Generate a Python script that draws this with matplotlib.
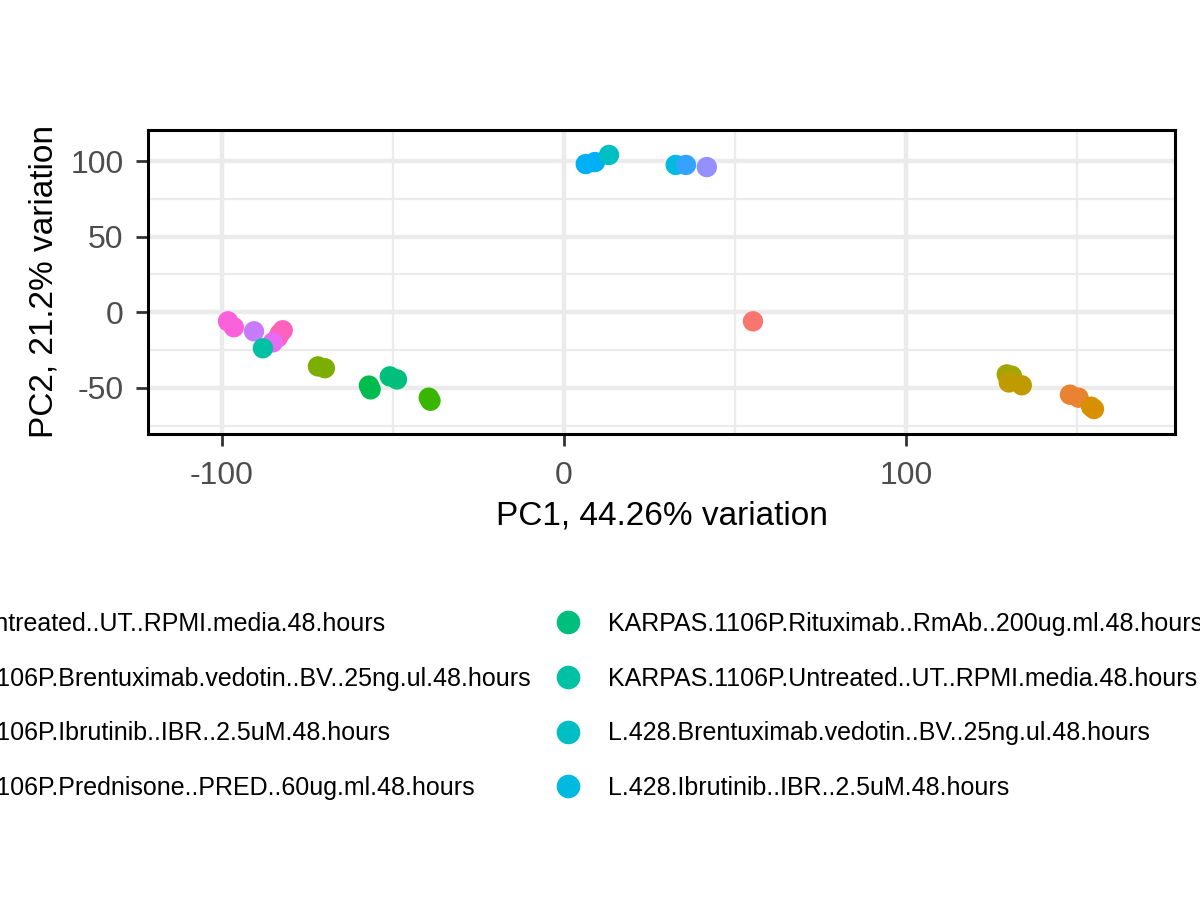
import matplotlib
matplotlib.use("Agg")
import matplotlib.pyplot as plt
from matplotlib.lines import Line2D
from matplotlib.ticker import MultipleLocator

plt.rcParams['font.family'] = ['Liberation Sans', 'DejaVu Sans']
plt.rcParams['axes.unicode_minus'] = False

# groups (legend order) and their ggplot hue colours
lines = ["HDLM.2", "KARPAS.1106P", "L.428", "L.540"]
treatments = ["Brentuximab.vedotin..BV..25ng.ul.48.hours",
              "Ibrutinib..IBR..2.5uM.48.hours",
              "Prednisone..PRED..60ug.ml.48.hours",
              "Rituximab..RmAb..200ug.ml.48.hours",
              "Untreated..UT..RPMI.media.48.hours"]
groups = [c + "." + t for c in lines for t in treatments]
colors = ["#F8766D", "#EA8331", "#D89000", "#C09B00", "#A3A500",
          "#7CAE00", "#39B600", "#00BB4E", "#00BF7D", "#00C1A3",
          "#00BFC4", "#00BAE0", "#00B0F6", "#35A2FF", "#9590FF",
          "#C77CFF", "#E76BF3", "#FA62DB", "#FF62BC", "#FF6C91"]

# samples, in drawing order: group index, PC1, PC2
sample_group = [0, 1, 1, 2, 2, 4, 4, 3, 3,
                17, 17, 15, 19, 18, 18, 16,
                5, 5, 6, 6, 7, 7, 8, 8, 9,
                12, 12, 10, 11, 13, 14]
pc1 = [55.3, 148.0, 150.5, 154.2, 155.0, 129.5, 131.0, 130.1, 133.9,
       -98.2, -96.5, -90.6, -83.0, -82.2, -83.6, -85.1,
       -71.9, -69.9, -39.5, -39.0, -57.0, -56.5, -50.9, -48.8, -88.0,
       6.4, 9.1, 13.2, 32.7, 35.7, 41.8]
pc2 = [-6.0, -54.5, -56.5, -62.5, -64.0, -41.1, -42.0, -46.4, -48.3,
       -6.0, -9.9, -12.6, -14.0, -11.9, -16.6, -19.9,
       -35.8, -37.0, -56.5, -58.5, -48.5, -51.0, -42.4, -44.4, -23.8,
       98.0, 99.3, 104.0, 97.4, 97.4, 96.0]

xlabel = "PC1, 44.26% variation"
ylabel = "PC2, 21.2% variation"

fig = plt.figure(figsize=(12, 9), dpi=100)
ax = fig.add_axes([148 / 1200, 1 - 434 / 900, (1175 - 148) / 1200, (434 - 130) / 900])

ax.scatter(pc1, pc2, c=[colors[g] for g in sample_group], s=215,
           linewidths=0, zorder=3)

ax.set_xlim(-121.6, 178.7)
ax.set_ylim(-80.5, 120.5)
ax.xaxis.set_major_locator(MultipleLocator(100))
ax.xaxis.set_minor_locator(MultipleLocator(50))
ax.yaxis.set_major_locator(MultipleLocator(50))
ax.yaxis.set_minor_locator(MultipleLocator(25))
ax.grid(which='major', color='#EBEBEB', linewidth=3.2, zorder=0)
ax.grid(which='minor', color='#EBEBEB', linewidth=1.6, zorder=0)
ax.set_axisbelow(True)
ax.tick_params(which='minor', length=0)
ax.tick_params(which='major', length=8.5, width=2, color='#333333',
               labelsize=23, labelcolor='#4D4D4D')
ax.tick_params(axis='x', pad=11)
ax.tick_params(axis='y', pad=9)
for s in ax.spines.values():
    s.set_linewidth(2.2)
    s.set_color('black')

ax.set_xlabel(xlabel, fontsize=24, labelpad=7)
ax.set_ylabel(ylabel, fontsize=24, labelpad=8)

handles = [Line2D([], [], linestyle='none', marker='o', markersize=17,
                  markerfacecolor=c, markeredgewidth=0) for c in colors]
leg = fig.legend(handles, groups, loc='center', bbox_to_anchor=(0.5, 1 - 706 / 900),
                 ncol=5, frameon=False, fontsize=18, handlelength=1.0,
                 handletextpad=1.1, columnspacing=1.0, labelspacing=1.23)

# shift the (wide) legend so the third column sits where it does in the reference
fig.canvas.draw()
r = fig.canvas.get_renderer()
bb = leg.get_texts()[8].get_window_extent(r)
dx = (608 - bb.x0) / 1200
leg.set_bbox_to_anchor((0.5 + dx, 1 - 706 / 900), transform=fig.transFigure)

fig.savefig("out.png", dpi=100)
